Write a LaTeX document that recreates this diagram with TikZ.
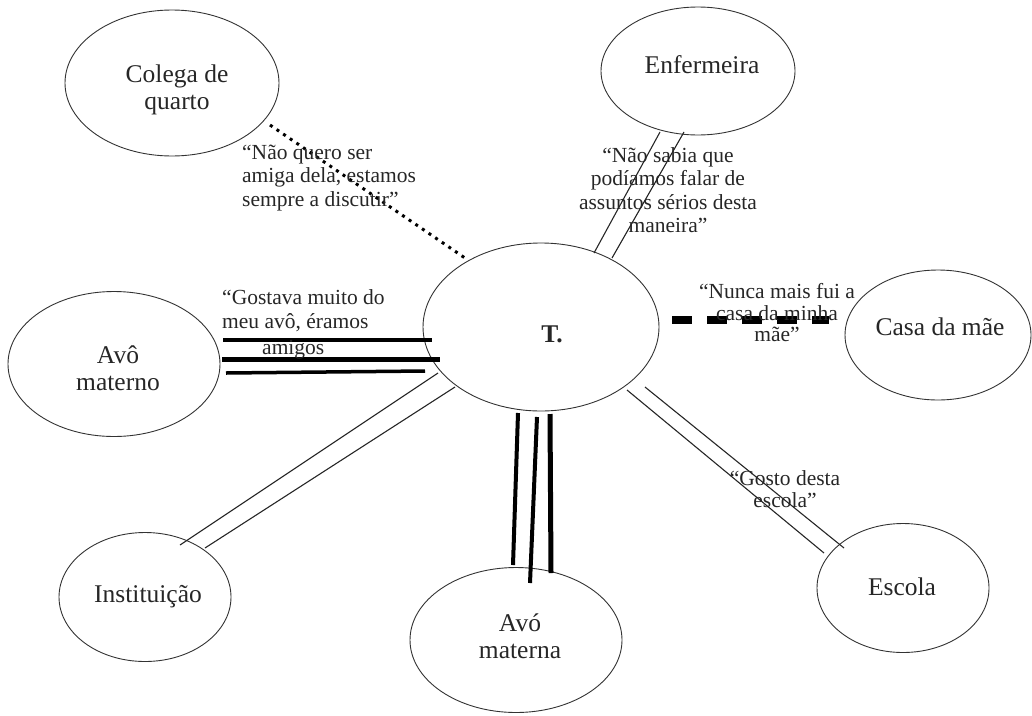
\documentclass[tikz,border=0pt]{standalone}
\usepackage{fontspec}
\setmainfont{Liberation Serif}
\usetikzlibrary{shapes.geometric,calc}
\begin{document}
\begin{tikzpicture}[x=1pt,y=-1pt,
  circ/.style={ellipse,draw=black!80,line width=0.9pt,inner sep=0pt},
  lbl/.style={font=\fontsize{25.5}{27}\selectfont,align=center,inner sep=0pt,text=black!85},
  quote/.style={font=\fontsize{21.5}{23.5}\selectfont,inner sep=0pt,text=black!85},
  thinpair/.style={line width=1.1pt,draw=black!85},
  heavy/.style={draw=black,line width=4.5pt},
  dots/.style={draw=black,line width=3pt,dash pattern=on 3pt off 5pt},
  dashbar/.style={draw=black,line width=8pt,dash pattern=on 20pt off 15pt}]
\useasboundingbox (0,0) rectangle (1032,715);

% ellipses of the network
\node[circ,minimum width=236pt,minimum height=168pt] (T)    at (541,327) {};
\node[circ,minimum width=214pt,minimum height=146pt] (Col)  at (172,83)  {};
\node[circ,minimum width=194pt,minimum height=128pt] (Enf)  at (698,71)  {};
\node[circ,minimum width=186pt,minimum height=130pt] (Casa) at (938,335) {};
\node[circ,minimum width=212pt,minimum height=145pt] (AvM)  at (114,364) {};
\node[circ,minimum width=172pt,minimum height=129pt] (Inst) at (145,597) {};
\node[circ,minimum width=212pt,minimum height=145pt] (AvF)  at (516,640) {};
\node[circ,minimum width=172pt,minimum height=129pt] (Esc)  at (903,588) {};

% names inside the ellipses
\node[lbl] (tCol)  at (177,90)  {Colega de\\quarto};
\node[lbl] (tEnf)  at (702,65)  {Enfermeira};
\node[lbl,font=\bfseries\fontsize{25.5}{27}\selectfont] (tT) at (552,334) {T.};
\node[lbl] (tCasa) at (940,327) {Casa da mãe};
\node[lbl] (tAvM)  at (118,368) {Avô\\materno};
\node[lbl] (tInst) at (148,597) {Instituição};
\node[lbl] (tAvF)  at (520,636) {Avó\\materna};
\node[lbl] (tEsc)  at (902,587) {Escola};

% conflictual tie: dotted
\draw[dots] ($(Col)+(98,42)$) -- ($(T)+(-76,-69)$);

% broken tie: heavy dashes
\draw[dashbar] ($(T)+(131,-7)$) -- ($(Casa)+(-109,-15)$);

% moderate ties: pairs of thin lines
\draw[thinpair] ($(T)+(53,-74)$) -- ($(Enf)+(-38,61)$);
\draw[thinpair] ($(T)+(71,-69)$) -- ($(Enf)+(-14,61)$);
\draw[thinpair] ($(T)+(-103,46)$) -- ($(Inst)+(35,-52)$);
\draw[thinpair] ($(T)+(-86,60)$) -- ($(Inst)+(60,-49)$);
\draw[thinpair] ($(T)+(86,63)$) -- ($(Esc)+(-79,-35)$);
\draw[thinpair] ($(T)+(104,60)$) -- ($(Esc)+(-59,-40)$);

% strong ties: three heavy lines
\draw[heavy,line width=4pt]   ($(AvM)+(109,-24)$) -- ($(T)+(-109,13)$);
\draw[heavy,line width=5pt]   ($(AvM)+(108,-5)$)  -- ($(T)+(-101,32)$);
\draw[heavy,line width=3.5pt] ($(AvM)+(112,9)$)   -- ($(T)+(-116,44)$);
\draw[heavy,line width=4pt]   ($(T)+(-23,86)$) -- ($(AvF)+(-3,-75)$);
\draw[heavy,line width=4pt]   ($(T)+(-4,90)$)  -- ($(AvF)+(14,-57)$);
\draw[heavy,line width=5pt]   ($(T)+(9,87)$)   -- ($(AvF)+(35,-67)$);

% quotes along the ties
\node[quote,align=left,anchor=west] (qCol) at (242,178)
  {“Não quero ser\\amiga dela, estamos\\sempre a discutir”};
\node[quote,align=center] (qEnf) at (668,190)
  {“Não sabia que\\podíamos falar de\\assuntos sérios desta\\maneira”};
\node[quote,align=center,font=\fontsize{21.5}{21.5}\selectfont] (qCasa) at (777,313)
  {“Nunca mais fui a\\casa da minha\\mãe”};
\node[quote,align=center,font=\fontsize{21.5}{21.5}\selectfont] (qEsc) at (785,489)
  {“Gosto desta\\escola”};
\node[quote,align=left,anchor=west,font=\fontsize{21.5}{24}\selectfont] (qAvM) at (222,324)
  {“Gostava muito do\\meu avô, éramos\\[2pt]\hspace*{40pt}amigos};
\end{tikzpicture}
\end{document}
